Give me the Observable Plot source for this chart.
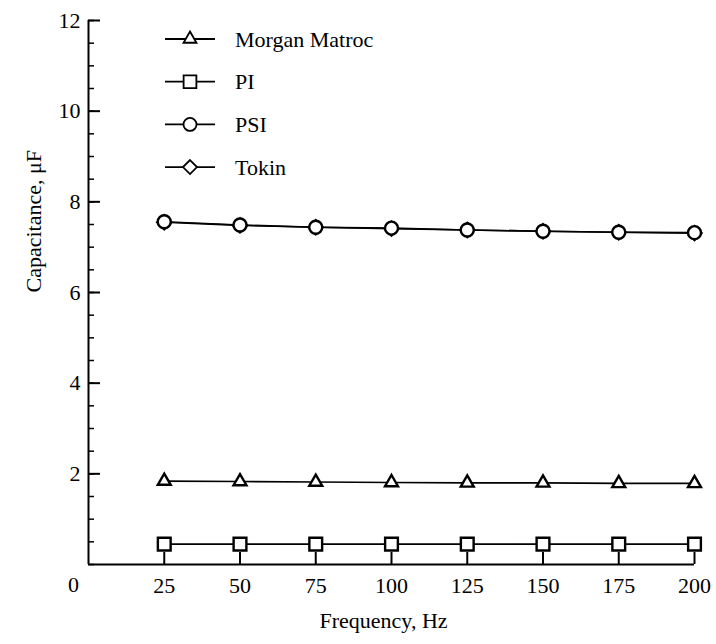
<!DOCTYPE html>
<html><head><meta charset="utf-8">
<script src="https://cdn.jsdelivr.net/npm/d3@7"></script>
<script src="https://cdn.jsdelivr.net/npm/@observablehq/plot@0.6"></script>
<style>
body{margin:0;background:#fff;}
#wrap{position:relative;width:716px;height:644px;}
#legend{position:absolute;left:0;top:0;}
</style></head><body><div id="wrap"></div>
<script>
// ---- data ----
const frequency = [25, 50, 75, 100, 125, 150, 175, 200];
const morganMatroc = [1.84, 1.83, 1.82, 1.81, 1.80, 1.80, 1.79, 1.79];
const pi = [0.45, 0.45, 0.45, 0.45, 0.45, 0.45, 0.45, 0.45];
const psi = [7.56, 7.49, 7.44, 7.42, 7.38, 7.35, 7.33, 7.32];
const tokin = [7.55, 7.48, 7.44, 7.41, 7.38, 7.35, 7.33, 7.31];
const seriesNames = ["Morgan Matroc", "PI", "PSI", "Tokin"];
const xTicks = [25, 50, 75, 100, 125, 150, 175, 200];
const yMajorTicks = [2, 4, 6, 8, 10, 12];
const yMinorTicks = d3.range(0, 12.001, 0.5);
const xLabel = "Frequency, Hz";
const yLabel = "Capacitance, \u03bcF";

const font = "'Liberation Serif', 'Times New Roman', serif";
const valuesBySeries = {"Morgan Matroc": morganMatroc, "PI": pi, "PSI": psi, "Tokin": tokin};
const style = {
  "Morgan Matroc": {symbol: "triangle", r: 4.8, d3sym: d3.symbolTriangle},
  "PI": {symbol: "square", r: 7.2, d3sym: d3.symbolSquare},
  "PSI": {symbol: "circle", r: 6.5, d3sym: d3.symbolCircle},
  "Tokin": {symbol: "diamond2", r: 6.3, d3sym: d3.symbolDiamond2}
};
const rows = [];
for (const s of seriesNames) valuesBySeries[s].forEach((v, i) => rows.push({series: s, f: frequency[i], v}));

const drawOrder = ["PI", "Morgan Matroc", "Tokin", "PSI"];
const marks = [
  Plot.axisY({ticks: yMinorTicks, tickSize: -6, text: null, label: null, strokeWidth: 1.5, stroke: "black"}),
  Plot.axisY({ticks: yMajorTicks, tickSize: -12, tickPadding: 20, label: null, strokeWidth: 2, stroke: "black", fill: "black", fontSize: 22}),
  Plot.axisX({ticks: xTicks, tickSize: -12, tickPadding: 25, label: null, strokeWidth: 2, stroke: "black", fill: "black", fontSize: 22}),
  Plot.ruleX([0], {strokeWidth: 2, stroke: "black"}),
  Plot.ruleY([0], {strokeWidth: 2, stroke: "black"}),
];
for (const s of drawOrder) {
  const d = rows.filter(r => r.series === s);
  marks.push(Plot.line(d, {x: "f", y: "v", stroke: "black", strokeWidth: 1.6}));
}
for (const s of drawOrder) {
  const d = rows.filter(r => r.series === s);
  marks.push(Plot.dot(d, {x: "f", y: "v", symbol: style[s].symbol, r: style[s].r, stroke: "black", strokeWidth: 2.4, fill: "white"}));
}
marks.push(Plot.text(["0"], {x: () => 0, y: () => 0, text: d => d, dx: -15, dy: 20, fontSize: 22, fill: "black"}));
marks.push(Plot.text([xLabel], {frameAnchor: "bottom", text: d => d, dx: -8, dy: 63, fontSize: 22, fill: "black"}));
marks.push(Plot.text([yLabel], {frameAnchor: "left", text: d => d, rotate: -90, dx: -55, fontSize: 22, fill: "black"}));

const chart = Plot.plot({
  width: 716, height: 644,
  marginLeft: 88, marginRight: 22, marginTop: 20, marginBottom: 80,
  style: {fontFamily: font, fontSize: "22px", color: "#000", background: "#fff"},
  x: {domain: [0, 200]},
  y: {domain: [0, 12]},
  marks
});
document.getElementById("wrap").appendChild(chart);

// ---- legend ----
const leg = d3.select("#wrap").append("svg").attr("id", "legend").attr("width", 716).attr("height", 200);
seriesNames.forEach((s, i) => {
  const g = leg.append("g").attr("transform", `translate(0,${39 + i * 42.7})`);
  g.append("line").attr("x1", 165).attr("x2", 215).attr("y1", 0).attr("y2", 0).attr("stroke", "black").attr("stroke-width", 1.8);
  const r = style[s].r;
  g.append("path").attr("transform", "translate(190,0)")
    .attr("d", d3.symbol().type(style[s].d3sym).size(Math.PI * r * r)())
    .attr("fill", "white").attr("stroke", "black").attr("stroke-width", 1.8);
  g.append("text").attr("x", 235).attr("y", 0).attr("dy", "0.35em")
    .attr("font-family", font).attr("font-size", 22).attr("fill", "black").text(s);
});
</script></body></html>
